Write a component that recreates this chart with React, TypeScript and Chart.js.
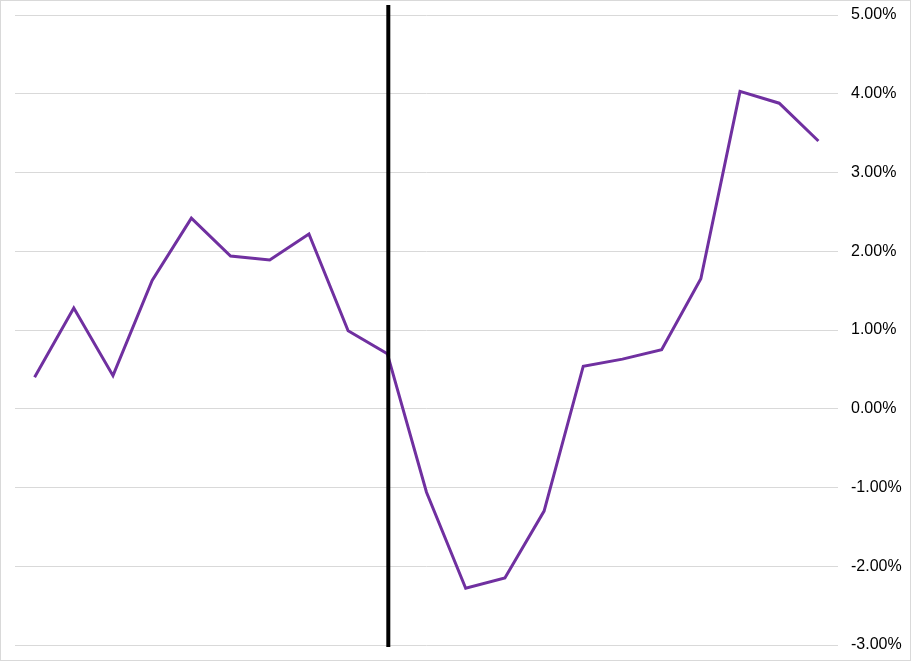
import React, { useEffect, useRef } from "react";
import { Chart, registerables } from "chart.js";

Chart.register(...registerables);

const categories: string[] = [
  "1", "2", "3", "4", "5", "6", "7", "8", "9", "10", "11",
  "12", "13", "14", "15", "16", "17", "18", "19", "20", "21",
];
const seriesValues: number[] = [
  0.4, 1.28, 0.42, 1.63, 2.42, 1.94, 1.89, 2.22, 0.99, 0.7, -1.06,
  -2.28, -2.15, -1.3, 0.54, 0.63, 0.75, 1.65, 4.03, 3.88, 3.4,
];
const markerIndex = 9;
const yMin = -3;
const yMax = 5;

export default function App() {
  const ref = useRef<HTMLCanvasElement | null>(null);
  useEffect(() => {
    document.body.style.margin = "0";
    const canvas = ref.current;
    if (!canvas) return;
    const borderPlugin = {
      id: "frame",
      beforeDraw(chart: any) {
        const ctx = chart.ctx;
        ctx.save();
        ctx.fillStyle = "#ffffff";
        ctx.fillRect(0, 0, chart.width, chart.height);
        ctx.strokeStyle = "#d9d9d9";
        ctx.lineWidth = 1;
        ctx.strokeRect(0.5, 0.5, chart.width - 1, chart.height - 1);
        ctx.restore();
      },
      afterDatasetsDraw(chart: any) {
        const ctx = chart.ctx;
        const x = chart.scales.x.getPixelForValue(markerIndex) + 1;
        ctx.save();
        ctx.strokeStyle = "#000000";
        ctx.lineWidth = 4;
        ctx.beginPath();
        ctx.moveTo(x, 5);
        ctx.lineTo(x, chart.chartArea.bottom + 2);
        ctx.stroke();
        ctx.restore();
      },
    };
    const chart = new Chart(canvas, {
      type: "line",
      data: {
        labels: categories,
        datasets: [
          {
            data: seriesValues,
            borderColor: "#7030a0",
            borderWidth: 3,
            pointRadius: 0,
            tension: 0,
            fill: false,
          },
        ],
      },
      options: {
        animation: false,
        responsive: false,
        layout: { padding: { left: 15, top: 15, bottom: 16, right: 0 } },
        plugins: { legend: { display: false }, tooltip: { enabled: false } },
        scales: {
          x: {
            display: false,
            offset: true,
          },
          y: {
            position: "right",
            min: yMin,
            max: yMax,
            border: { display: false },
            grid: { color: "#d9d9d9", drawTicks: false, lineWidth: 1 },
            ticks: {
              stepSize: 1,
              padding: 13,
              color: "#000000",
              font: { family: "'Liberation Sans', Arial, sans-serif", size: 16 },
              callback: (v: any) => Number(v).toFixed(2) + "%",
            },
            afterFit: (scale: any) => {
              scale.width = 73;
              scale.paddingTop = 0;
              scale.paddingBottom = 0;
            },
          },
        },
      },
      plugins: [borderPlugin],
    });
    return () => chart.destroy();
  }, []);
  return <canvas ref={ref} width={911} height={661} style={{ display: "block" }} />;
}
